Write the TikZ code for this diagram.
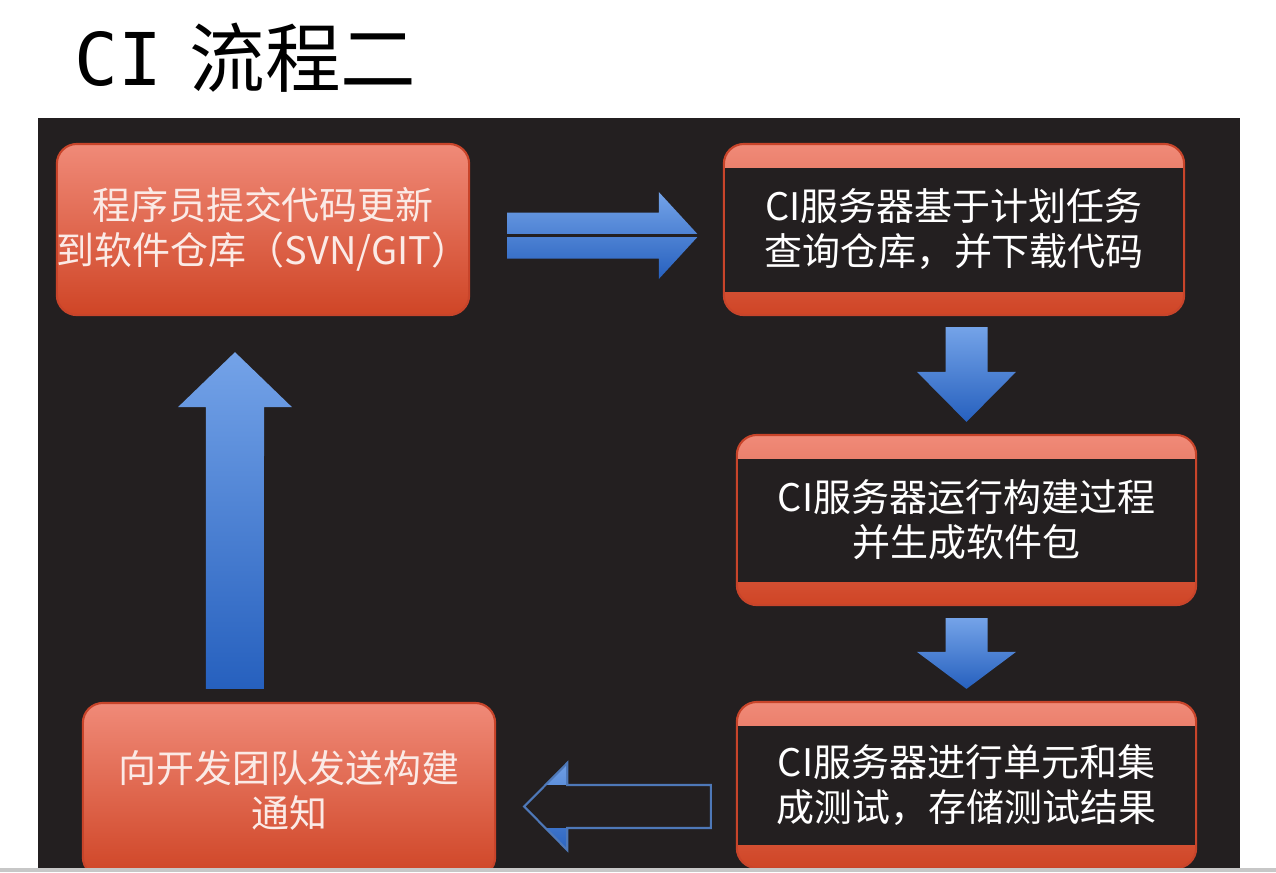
\documentclass[tikz,border=0pt]{standalone}
\usepackage{fontspec}
\usepackage{xcolor}
\usepackage{tikz}
\usetikzlibrary{calc,positioning}
\newfontfamily\cjk{Noto Sans CJK SC}
\newfontfamily\titlemono{DejaVu Sans Mono}

\definecolor{panel}{HTML}{231F20}
\definecolor{boxtop}{HTML}{F08A78}
\definecolor{boxbot}{HTML}{CF4526}
\definecolor{boxedge}{HTML}{C8442A}
\definecolor{boxtext}{HTML}{FBEAE6}
\definecolor{arrowtop}{HTML}{74A3E8}
\definecolor{arrowbot}{HTML}{2660BE}
\definecolor{arrowedge}{HTML}{4E78B8}

\begin{document}
\begin{tikzpicture}[x=.01cm,y=-.01cm,
  stepbox/.style={rounded corners=.2cm,top color=boxtop,bottom color=boxbot,
    draw=boxedge,line width=.6pt,text=boxtext,align=center,inner sep=0pt,
    font=\cjk\fontsize{10.8}{12.8}\selectfont},
  bandbox/.style={stepbox,text=white,
    path picture={\fill[panel,sharp corners]
      ([yshift=-.24cm]path picture bounding box.north west) rectangle
      ([yshift=.23cm]path picture bounding box.south east);}},
  blockarrow/.style={top color=arrowtop,bottom color=arrowbot},
  fat/.style args={#1/#2/#3}{to path={let \p1=(\tikztostart),\p2=(\tikztotarget),
    \n1={atan2(\y2-\y1,\x2-\x1)},\n2={veclen(\x2-\x1,\y2-\y1)} in
    ([shift={(\p1)},rotate=\n1]0pt,#1)
    -- ([shift={(\p1)},rotate=\n1]{\n2-#3},#1)
    -- ([shift={(\p1)},rotate=\n1]{\n2-#3},#2)
    -- ([shift={(\p1)},rotate=\n1]\n2,0pt)
    -- ([shift={(\p1)},rotate=\n1]{\n2-#3},-#2)
    -- ([shift={(\p1)},rotate=\n1]{\n2-#3},-#1)
    -- ([shift={(\p1)},rotate=\n1]0pt,-#1) -- cycle}}
]
 \path[use as bounding box] (0,0) rectangle (1276,872);
 \fill[white] (0,0) rectangle (1276,872);

 % title
 \node[anchor=base west,inner sep=0pt,font=\titlemono\fontsize{20.7}{24}\selectfont]
   (titleci) at (74,85) {CI};
 \node[anchor=base west,inner sep=0pt,font=\cjk\fontsize{21.5}{24}\selectfont]
   (titlecn) at (189,86) {流程二};

 \begin{scope}
  \clip (0,0) rectangle (1276,868);
  \fill[panel] (38,118) rectangle (1240,872);

  % the five steps
  \node[stepbox,minimum width=4.12cm,minimum height=1.71cm] (commit) at (263,229.5)
    {程序员提交代码更新\\到软件仓库（SVN/GIT）};
  \node[bandbox,minimum width=4.60cm,minimum height=1.71cm] (fetch) at (954,229.5)
    {CI服务器基于计划任务\\查询仓库，并下载代码};
  \node[bandbox,minimum width=4.59cm,minimum height=1.70cm] (build) at (966.5,520)
    {CI服务器运行构建过程\\并生成软件包};
  \node[bandbox,minimum width=4.59cm,minimum height=1.66cm] (test) at (966.5,785)
    {CI服务器进行单元和集\\成测试，存储测试结果};
  \node[stepbox,minimum width=4.12cm,minimum height=1.74cm] (notify) at (289,790)
    {向开发团队发送构建\\通知};

  % block arrows between the steps
  \coordinate (r0) at ([xshift=.37cm,yshift=-.06cm]commit.east);
  \coordinate (r1) at ([xshift=-.24cm,yshift=-.06cm]fetch.west);
  \shade[blockarrow] (r0) to[fat=.23cm/.435cm/.40cm] (r1);
  \draw[panel,line width=.6pt] (r0) -- (r1);

  \coordinate (d0) at ([xshift=.125cm,yshift=-.11cm]fetch.south);
  \coordinate (d1) at ([yshift=.12cm]build.north);
  \shade[blockarrow] (d0) to[fat=.21cm/.495cm/.50cm] (d1);

  \coordinate (e0) at ([yshift=-.12cm]build.south);
  \coordinate (e1) at ([yshift=.12cm]test.north);
  \shade[blockarrow] (e0) to[fat=.21cm/.495cm/.37cm] (e1);

  % outlined arrow, only the head flaps filled
  \coordinate (l0) at ([xshift=-.25cm,yshift=-.215cm]test.west);
  \coordinate (l1) at ([xshift=.28cm,yshift=-.165cm]notify.east);
  \begin{scope}
   \clip (l0) to[fat=.215cm/.435cm/.43cm] (l1);
   \shade[blockarrow] ($(l1)+(0,-50)$) rectangle ($(l1)+(43,50)$);
   \fill[panel] ($(l1)+(0,-21.5)$) rectangle ($(l1)+(44,21.5)$);
  \end{scope}
  \draw[arrowedge,line width=.6pt] (l0) to[fat=.215cm/.435cm/.43cm] (l1);

  \coordinate (u0) at ([xshift=-.54cm,yshift=.13cm]notify.north);
  \coordinate (u1) at ([xshift=-.28cm,yshift=-.36cm]commit.south);
  \shade[blockarrow] (u0) to[fat=.29cm/.57cm/.55cm] (u1);
 \end{scope}

 \fill[black!22] (0,868) rectangle (1276,872);
\end{tikzpicture}
\end{document}
